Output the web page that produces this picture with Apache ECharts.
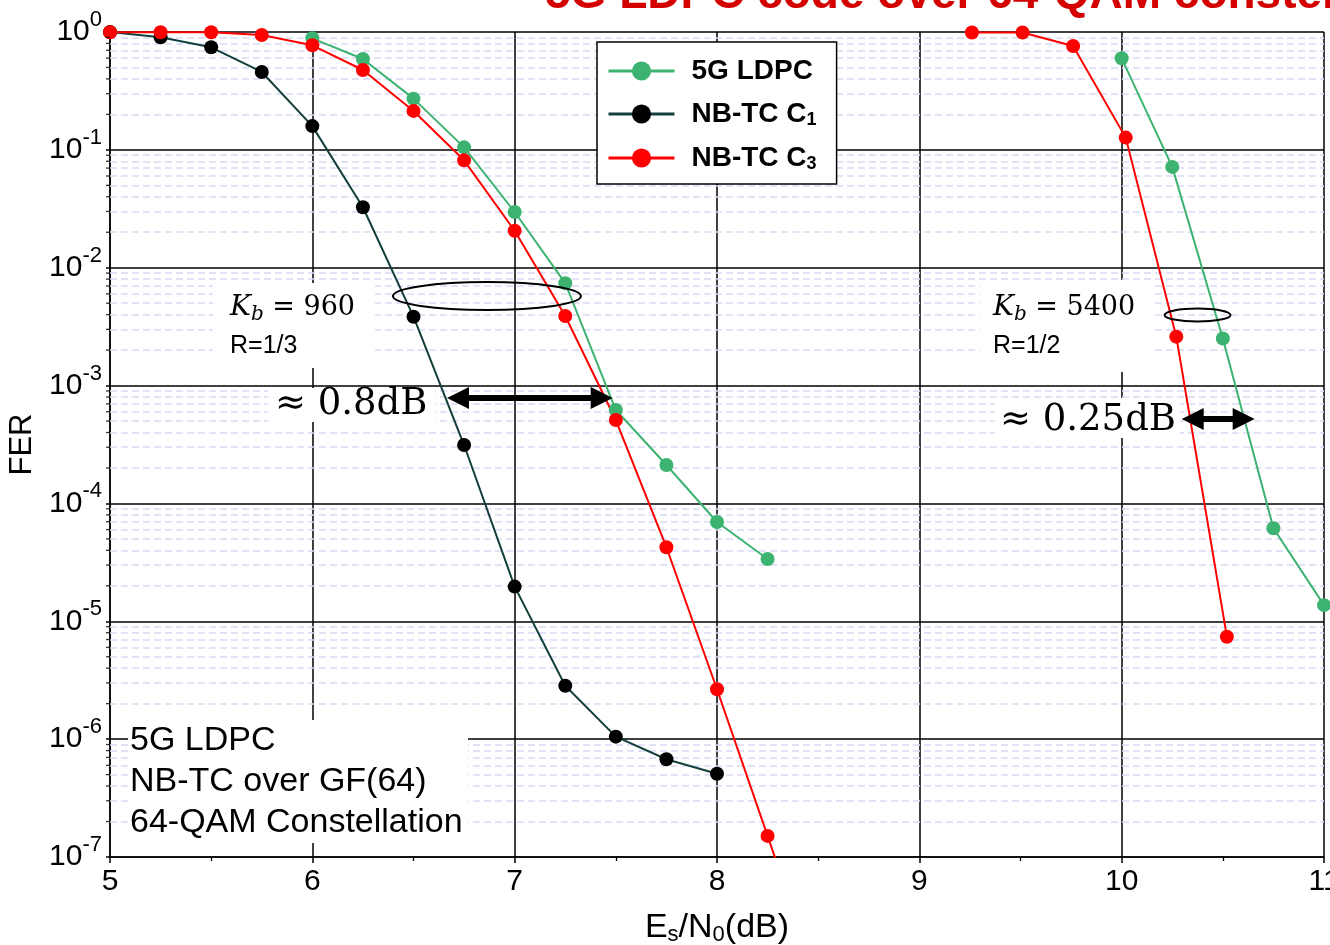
<!DOCTYPE html>
<html><head><meta charset="utf-8">
<script src="https://cdn.jsdelivr.net/npm/echarts@6/dist/echarts.min.js"></script>
<style>html,body{margin:0;padding:0;background:#fff}#c{width:1330px;height:945px}</style>
</head><body><div id="c"></div>
<script>
// ---- data (Es/N0 in dB, FER) ----
const esn0_ldpc_960 = [6, 6.25, 6.5, 6.75, 7, 7.25, 7.5, 7.75, 8, 8.25];
const fer_ldpc_960  = [0.884, 0.59, 0.272, 0.105, 0.0297, 7.4e-3, 6.2e-4, 2.12e-4, 6.96e-5, 3.38e-5];
const esn0_c1_960   = [5, 5.25, 5.5, 5.75, 6, 6.25, 6.5, 6.75, 7, 7.25, 7.5, 7.75, 8];
const fer_c1_960    = [1.0, 0.902, 0.742, 0.458, 0.159, 0.0326, 3.84e-3, 3.13e-4, 1.97e-5, 2.84e-6, 1.05e-6, 6.75e-7, 5.09e-7];
const esn0_c3_960   = [5, 5.25, 5.5, 5.75, 6, 6.25, 6.5, 6.75, 7, 7.25, 7.5, 7.75, 8, 8.25, 8.5];
const fer_c3_960    = [0.995, 0.995, 0.995, 0.943, 0.771, 0.476, 0.214, 0.0815, 0.0206, 3.89e-3, 5.1e-4, 4.25e-5, 2.65e-6, 1.51e-7, 8.5e-9];
const esn0_ldpc_5400 = [10, 10.25, 10.5, 10.75, 11];
const fer_ldpc_5400  = [0.598, 0.0717, 2.51e-3, 6.15e-5, 1.37e-5];
const esn0_c3_5400   = [9.26, 9.51, 9.76, 10.02, 10.27, 10.52];
const fer_c3_5400    = [0.99, 0.99, 0.761, 0.127, 2.6e-3, 7.4e-6];

const seriesNames = ['5G LDPC', 'NB-TC C1', 'NB-TC C3'];
const xMin = 5, xMax = 11, xStep = 1;
const yMin = 1e-7, yMax = 1;
const titleText = '5G LDPC code over 64-QAM constellation';
const boxLines = ['5G LDPC', 'NB-TC over GF(64)', '64-QAM Constellation'];
// gap arrows (dB gap markers) and grouping ellipses, in data coordinates
const gapArrows = [
  [[6.72, 7.85e-4], [7.43, 7.85e-4]],
  [[10.351, 5.2e-4], [10.603, 5.2e-4]]
];
const ellipses = [
  {c: [6.863, 5.75e-3], rx: 94, ry: 14},
  {c: [10.375, 3.97e-3], rx: 33, ry: 6.5}
];

// minor (2..9 x 10^e) grid positions for the log axis
const minorGridFER = [];
for (let e = -7; e < 0; e++) for (let m = 2; m <= 9; m++) minorGridFER.push(+(m * Math.pow(10, e)).toPrecision(3));

const SANS = 'Liberation Sans';
const SERIF = 'DejaVu Serif';
const GREEN = '#3cb371', RED = '#ff0000', BLACKLINE = '#123f3b';

function pairs(xs, ys) { return xs.map((x, i) => [x, ys[i]]); }
function curve(name, xs, ys, color, lineColor) {
  return {
    type: 'line', name, data: pairs(xs, ys), symbol: 'circle', symbolSize: 14,
    itemStyle: {color}, lineStyle: {color: lineColor || color, width: 2}, z: 3
  };
}

const option = {
  animation: false,
  backgroundColor: '#fff',
  grid: {left: 110, right: 6, top: 32, bottom: 88, containLabel: false, outerBoundsMode: 'none'},
  legend: {
    data: seriesNames, orient: 'vertical', left: 597, top: 42,
    itemWidth: 66, itemHeight: 24, itemGap: 15,
    backgroundColor: '#fff', borderColor: '#000', borderWidth: 1.5,
    padding: [15, 20, 11, 10], selectedMode: false,
    lineStyle: {width: 3},
    formatter: n => n === '5G LDPC' ? '{g| }{n|5G LDPC}' : '{g| }{n|' + n.slice(0, -1) + '}{u|' + n.slice(-1) + '}',
    textStyle: {
      fontFamily: SANS, fontSize: 28, fontWeight: 'bold', color: '#000',
      rich: {
        g: {width: 12, fontSize: 28, lineHeight: 30},
        n: {fontFamily: SANS, fontSize: 28, fontWeight: 'bold', color: '#000', lineHeight: 30},
        u: {fontFamily: SANS, fontSize: 18, fontWeight: 'bold', color: '#000', lineHeight: 18, verticalAlign: 'bottom'}
      }
    }
  },
  xAxis: {
    type: 'value', min: xMin, max: xMax, interval: xStep,
    name: '{n|E}{u|s}{n|/N}{u|0}{n|(dB)}', nameLocation: 'middle', nameGap: 53,
    nameTextStyle: {
      rich: {
        n: {fontFamily: SANS, fontSize: 34, color: '#000', lineHeight: 36},
        u: {fontFamily: SANS, fontSize: 22, color: '#000', lineHeight: 22, verticalAlign: 'bottom'}
      }
    },
    axisLine: {show: true, lineStyle: {color: '#000', width: 1.5}},
    axisTick: {show: true, length: 6, lineStyle: {color: '#000', width: 1.5}},
    minorTick: {show: true, splitNumber: 2, length: 4, lineStyle: {color: '#000', width: 1.3}},
    axisLabel: {fontFamily: SANS, fontSize: 30, color: '#000', margin: 10},
    splitLine: {show: true, lineStyle: {color: '#000', width: 1.5}}
  },
  yAxis: {
    type: 'log', logBase: 10, min: yMin, max: yMax,
    name: 'FER', nameLocation: 'middle', nameGap: 64,
    nameTextStyle: {fontFamily: SANS, fontSize: 31, color: '#000'},
    axisLine: {show: true, lineStyle: {color: '#000', width: 1.5}},
    axisTick: {show: true, length: 4, lineStyle: {color: '#000', width: 1.5}},
    axisLabel: {
      margin: 8,
      formatter: v => '{b|10}{s|' + Math.round(Math.log10(v)) + '}',
      rich: {
        b: {fontFamily: SANS, fontSize: 30, color: '#000', lineHeight: 46},
        s: {fontFamily: SANS, fontSize: 22, color: '#000', lineHeight: 22, verticalAlign: 'top'}
      }
    },
    splitLine: {show: true, lineStyle: {color: '#000', width: 1.5}}
  },
  series: [
    { // minor dashed grid lines
      type: 'line', name: '_minor', data: [], silent: true, z: 1,
      markLine: {
        z: 1, silent: true, symbol: ['none', 'none'], label: {show: false}, animation: false,
        precision: 20,
        lineStyle: {color: '#dadaf6', type: [7, 4], width: 1.5},
        emphasis: {disabled: true},
        data: minorGridFER.map(v => ({yAxis: v}))
      }
    },
    { // minor ticks on the FER axis
      type: 'scatter', name: '_mt', silent: true, clip: false, z: 4,
      data: minorGridFER.map(v => [xMin, v]),
      symbol: 'rect', symbolSize: [4, 1.3], symbolOffset: [-2, 0],
      itemStyle: {color: '#000'}
    },
    curve('5G LDPC', esn0_ldpc_960, fer_ldpc_960, GREEN),
    curve('NB-TC C1', esn0_c1_960, fer_c1_960, '#000', BLACKLINE),
    curve('NB-TC C3', esn0_c3_960, fer_c3_960, RED),
    curve('5G LDPC', esn0_ldpc_5400, fer_ldpc_5400, GREEN),
    curve('NB-TC C3', esn0_c3_5400, fer_c3_5400, RED),
    { // gap arrows
      type: 'line', name: '_arrows', data: [], silent: true, z: 6,
      markLine: {
        z: 6, silent: true, animation: false,
        symbol: ['triangle', 'triangle'], symbolSize: [22, 22],
        label: {show: false},
        itemStyle: {color: '#000'},
        lineStyle: {color: '#000', width: 6, type: 'solid'},
        emphasis: {disabled: true},
        data: gapArrows.map(a => [{coord: a[0]}, {coord: a[1]}])
      }
    }
  ]
};

const chart = echarts.init(document.getElementById('c'));
chart.setOption(option);

const P = (x, y) => chart.convertToPixel({xAxisIndex: 0, yAxisIndex: 0}, [x, y]);
function whiteBox(x, y, w, h) { return {type: 'rect', z: 2, silent: true, shape: {x, y, width: w, height: h}, style: {fill: '#fff'}}; }
function txt(x, y, text, font, extra) {
  return {type: 'text', z: 8, silent: true, style: Object.assign({x, y, text, font, fill: '#000', verticalAlign: 'middle'}, extra || {})};
}
const kRich = {
  k: {fontFamily: SERIF, fontStyle: 'italic', fontSize: 28, lineHeight: 34, fill: '#000'},
  b: {fontFamily: SERIF, fontStyle: 'italic', fontSize: 20, lineHeight: 20, verticalAlign: 'bottom', fill: '#000'},
  r: {fontFamily: SERIF, fontSize: 27, lineHeight: 34, fill: '#000'}
};
const graphics = [
  whiteBox(213, 283, 162, 85),
  whiteBox(268, 388, 167, 34),
  whiteBox(980, 280, 173, 92),
  whiteBox(995, 398, 185, 40),
  whiteBox(128, 720, 340, 123),
  txt(230, 308, '{k|K}{b|b}{r| = 960}', null, {rich: kRich}),
  txt(230, 346, 'R=1/3', '25px "Liberation Sans"'),
  txt(275, 404, '\u2248 0.8dB', '37px "DejaVu Serif"'),
  txt(993, 308, '{k|K}{b|b}{r| = 5400}', null, {rich: kRich}),
  txt(993, 346, 'R=1/2', '25px "Liberation Sans"'),
  txt(1000, 420, '\u2248 0.25dB', '37px "DejaVu Serif"'),
  txt(130, 741, boxLines[0], '34px "Liberation Sans"'),
  txt(130, 782, boxLines[1], '34px "Liberation Sans"'),
  txt(130, 823, boxLines[2], '34px "Liberation Sans"'),
  {type: 'text', z: 10, silent: true, style: {x: 545, y: -5, text: titleText, font: 'bold 46px "Liberation Sans"', fill: '#d40000', verticalAlign: 'middle'}}
];
ellipses.forEach(e => {
  const p = P(e.c[0], e.c[1]);
  graphics.push({type: 'ellipse', z: 7, silent: true, shape: {cx: p[0], cy: p[1], rx: e.rx, ry: e.ry}, style: {fill: null, stroke: '#000', lineWidth: 2}});
});
chart.setOption({graphic: graphics});
</script>
</body></html>
